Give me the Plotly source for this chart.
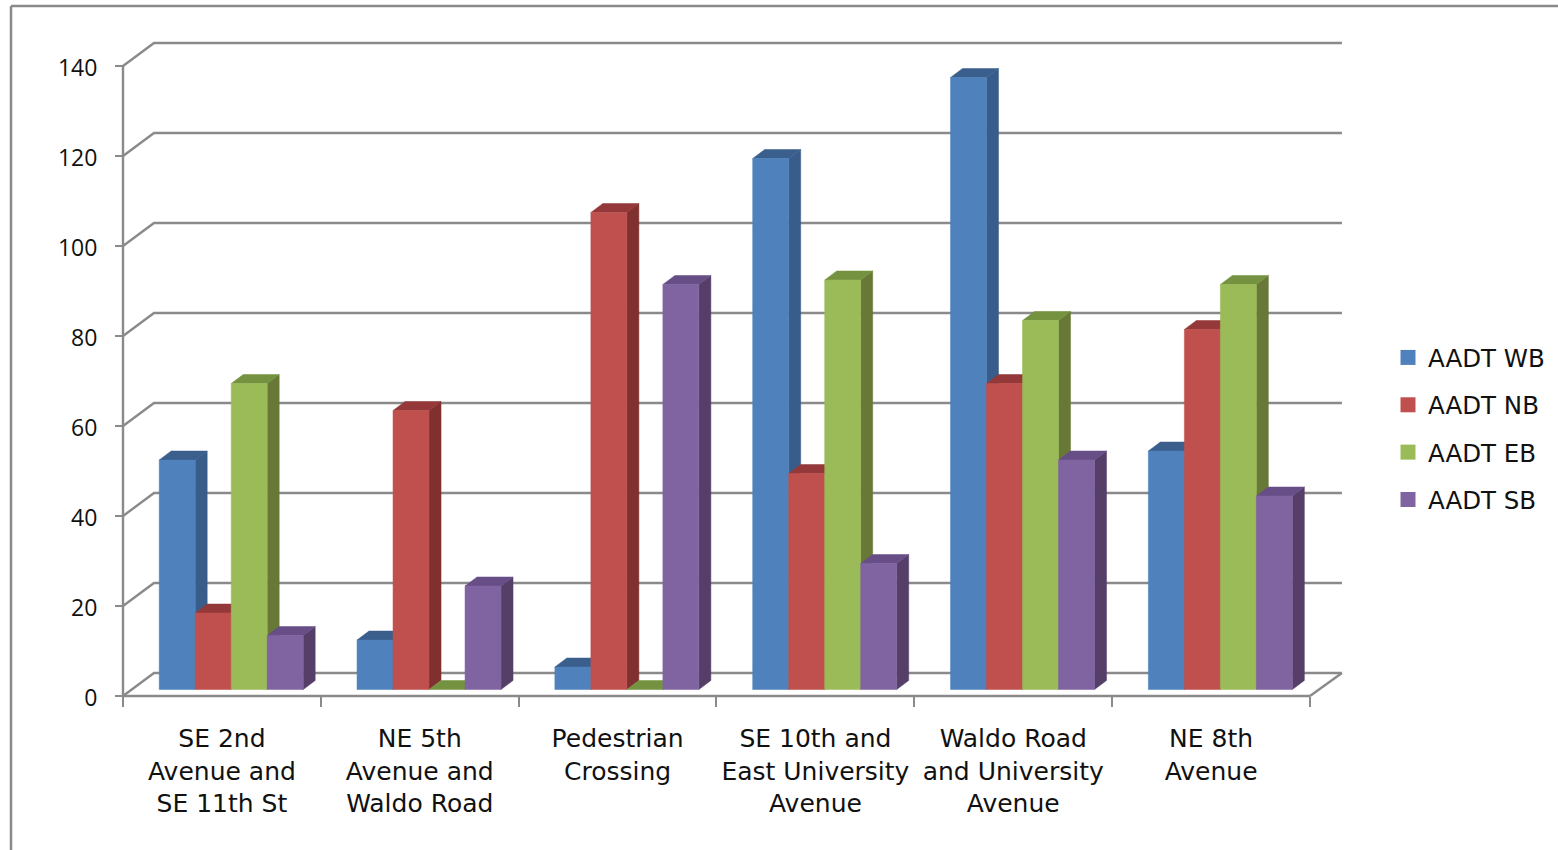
import plotly.graph_objects as go

categories = [
    "SE 2nd<br>Avenue and<br>SE 11th St",
    "NE 5th<br>Avenue and<br>Waldo Road",
    "Pedestrian<br>Crossing",
    "SE 10th and<br>East University<br>Avenue",
    "Waldo Road<br>and University<br>Avenue",
    "NE 8th<br>Avenue",
]
aadt_wb = [51, 11, 5, 118, 136, 53]
aadt_nb = [17, 62, 106, 48, 68, 80]
aadt_eb = [68, 0, 0, 91, 82, 90]
aadt_sb = [12, 23, 90, 28, 51, 43]
y_ticks = [0, 20, 40, 60, 80, 100, 120, 140]

series = [
    ("AADT WB", aadt_wb, "#4F81BD", "#3A5F8C", "#385D8A"),
    ("AADT NB", aadt_nb, "#C0504D", "#95383A", "#7F302F"),
    ("AADT EB", aadt_eb, "#9BBB59", "#74923F", "#677837"),
    ("AADT SB", aadt_sb, "#8064A2", "#674E87", "#553F69"),
]

# Page and plot-area layout, in pixels
WIDTH, HEIGHT = 1558, 850
LEFT, RIGHT, TOP, BOTTOM = 123, 1342, 43, 696
PAD = 4  # spare room round the frame so edge lines are not clipped
PX_PER_CATEGORY = 197.83
PX_PER_UNIT = 4.5

GREY = "#8A8A8A"
LABEL_FONT = "DejaVu Sans"
TICK_FONT = "Open Sans"

# Oblique projection used for the walls and the bar depth, in axis units
wall_dx = 31 / PX_PER_CATEGORY
wall_dy = 23 / PX_PER_UNIT
bar_dx = 12 / PX_PER_CATEGORY
bar_dy = 9 / PX_PER_UNIT
floor_lift = 6.5 / PX_PER_UNIT
bar_width = 36 / PX_PER_CATEGORY
group_start = 36.2 / PX_PER_CATEGORY

fig = go.Figure()


def line(xs, ys, width=2.4):
    fig.add_trace(go.Scatter(
        x=xs, y=ys, mode="lines", showlegend=False,
        hoverinfo="skip", line=dict(color=GREY, width=width),
    ))


def face(xs, ys, color):
    fig.add_trace(go.Scatter(
        x=xs, y=ys, mode="lines", fill="toself", fillcolor=color,
        showlegend=False, hoverinfo="skip",
        line=dict(color=color, width=0.5),
    ))


# Back wall grid lines, with their returns along the left wall
n = len(categories)
for tick in y_ticks:
    line([0, wall_dx, n + wall_dx * 1.03], [tick, tick + wall_dy, tick + wall_dy])

# Floor edges and the front axes
line([n, n + wall_dx * 1.03], [0, wall_dy])
line([0, n], [0, 0])
line([0, 0], [0, y_ticks[-1]])

# Bars painted left to right, so each front face covers its neighbour's side
for i in range(n):
    for j, (_, values, front, top, side) in enumerate(series):
        v = values[i]
        x0 = i + group_start + j * bar_width
        x1 = x0 + bar_width
        y0 = floor_lift
        y1 = floor_lift + v
        face([x1, x1 + bar_dx, x1 + bar_dx, x1, x1],
             [y0, y0 + bar_dy, y1 + bar_dy, y1, y0], side)
        face([x0, x1, x1 + bar_dx, x0 + bar_dx, x0],
             [y1, y1, y1 + bar_dy, y1 + bar_dy, y1], top)
        if v > 0:
            face([x0, x1, x1, x0, x0], [y0, y0, y1, y1, y0], front)

# Legend swatches
for name, _, front, _, _ in series:
    fig.add_trace(go.Scatter(
        x=[None], y=[None], mode="markers", name=name, legendgroup=name,
        marker=dict(symbol="square", size=15, color=front),
    ))

area_left = LEFT - PAD
area_top = TOP - PAD
area_w = RIGHT - LEFT + 2 * PAD
area_h = BOTTOM - TOP + 2 * PAD


def paper_x(px):
    return (px - area_left) / area_w


def paper_y(py):
    return 1 - (py - area_top) / area_h


fig.update_layout(
    width=WIDTH, height=HEIGHT, autosize=False,
    margin=dict(l=area_left, r=WIDTH - area_left - area_w, t=area_top,
                b=HEIGHT - area_top - area_h, autoexpand=False),
    paper_bgcolor="white", plot_bgcolor="white", showlegend=True,
    legend=dict(
        x=paper_x(1388), y=paper_y(335), xanchor="left", yanchor="top",
        font=dict(family=LABEL_FONT, size=24.5, color="#111111"),
        tracegroupgap=12.5, itemsizing="trace", traceorder="grouped",
        bgcolor="rgba(0,0,0,0)",
    ),
    xaxis=dict(
        range=[-PAD / PX_PER_CATEGORY, (RIGHT - LEFT + PAD) / PX_PER_CATEGORY],
        anchor="free", position=paper_y(BOTTOM),
        showgrid=False, zeroline=False, showline=False,
        tickmode="array", tickvals=[i + 0.5 for i in range(n)], ticktext=categories,
        ticks="", ticklabelstandoff=25, tickangle=0,
        tickfont=dict(family=LABEL_FONT, size=25, color="#111111"),
        minor=dict(tickmode="array", tickvals=list(range(n + 1)), ticks="outside",
                   ticklen=10, tickwidth=2.4, tickcolor=GREY, showgrid=False),
    ),
    yaxis=dict(
        range=[-PAD / PX_PER_UNIT, (BOTTOM - TOP + PAD) / PX_PER_UNIT],
        anchor="free", position=paper_x(LEFT),
        showgrid=False, zeroline=False, showline=False,
        tickmode="array", tickvals=y_ticks, ticks="outside", ticklen=8,
        tickwidth=2.4, tickcolor=GREY, ticklabelstandoff=13, ticklabelshift=2,
        tickfont=dict(family=TICK_FONT, size=23, color="#111111"),
    ),
    shapes=[
        dict(type="line", xref="paper", yref="paper", layer="above",
             x0=paper_x(11), x1=paper_x(WIDTH), y0=paper_y(6), y1=paper_y(6),
             line=dict(color=GREY, width=2.5)),
        dict(type="line", xref="paper", yref="paper", layer="above",
             x0=paper_x(11), x1=paper_x(11), y0=paper_y(6), y1=paper_y(HEIGHT),
             line=dict(color=GREY, width=2.5)),
    ],
)

fig.write_html("out.html")
